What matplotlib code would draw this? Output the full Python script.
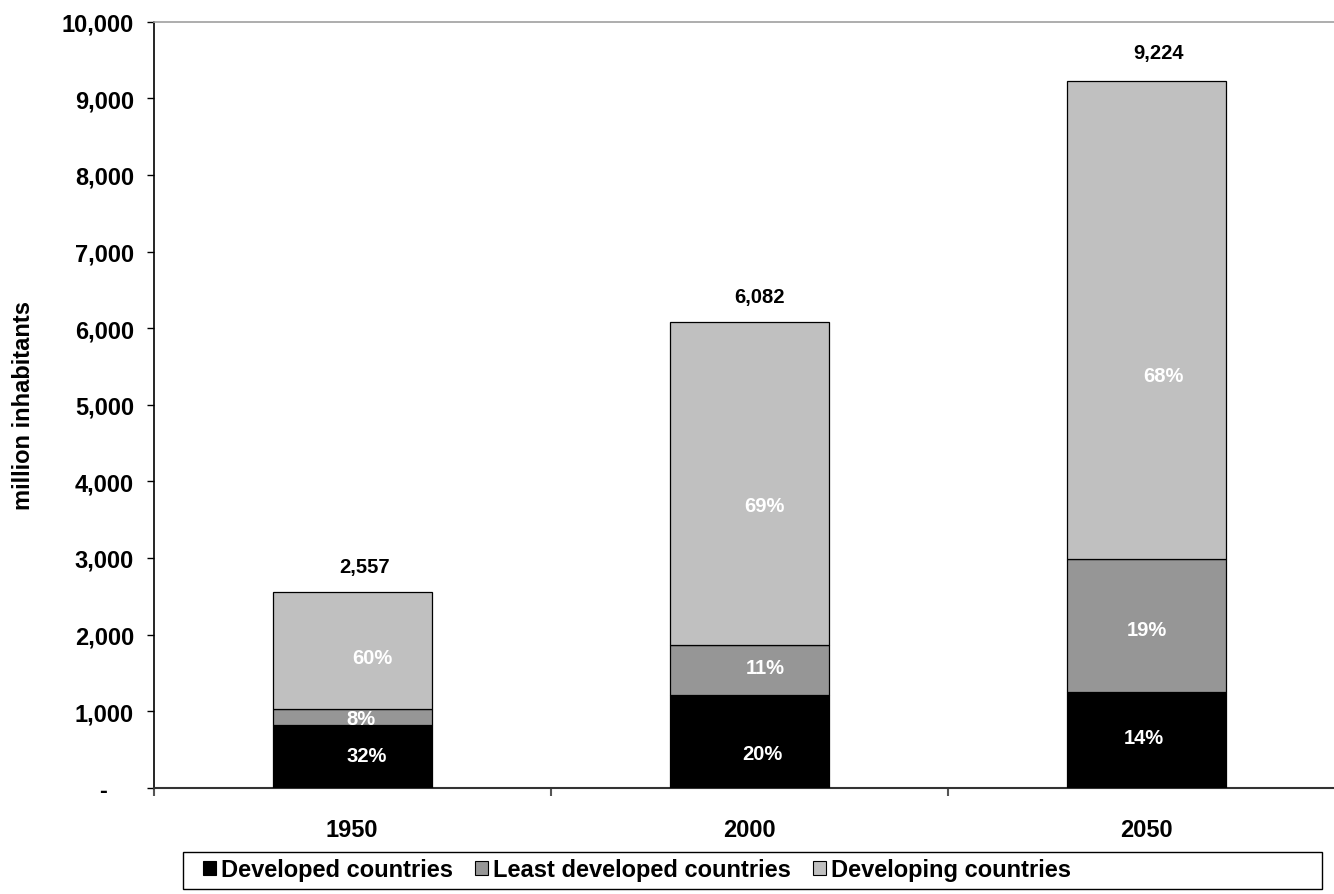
import matplotlib
matplotlib.use("Agg")
import matplotlib.pyplot as plt
from matplotlib.patches import Patch, Rectangle
from matplotlib.ticker import FuncFormatter, FixedLocator

plt.rcParams['font.family'] = ['Liberation Sans', 'DejaVu Sans']
plt.rcParams['font.weight'] = 'bold'

# Population by group, million inhabitants
years = ['1950', '2000', '2050']
developed = [821, 1210, 1252]
least_developed = [201, 650, 1730]
developing = [1535, 4222, 6242]
totals = [2557, 6082, 9224]
series_names = ['Developed countries', 'Least developed countries', 'Developing countries']
colors = ['#000000', '#969696', '#c0c0c0']

# Share label anchors (y in data units) and horizontal nudges (px)
pct_label_y = [[426, 909, 1704], [452, 1574, 3685], [660, 2068, 5377]]
pct_label_dx = [[15, 9, 20], [13, 16, 15], [-3, 0, 17]]
total_label_dy = [25, 25, 29]
total_label_dx = [12, 10, 12]

W, H = 1334, 895
fig = plt.figure(figsize=(W / 100, H / 100), dpi=100)
ax_left, ax_right, ax_bottom, ax_top = 153.5, 1345.0, 788.7, 22.7
ax = fig.add_axes([ax_left / W, 1 - ax_bottom / H,
                   (ax_right - ax_left) / W, (ax_bottom - ax_top) / H])

x = list(range(len(years)))
series = [developed, least_developed, developing]
bottoms = [0] * len(years)
for vals, col in zip(series, colors):
    ax.bar(x, vals, width=0.4, bottom=bottoms, color=col,
           edgecolor='black', linewidth=0.9, zorder=3)
    bottoms = [b + v for b, v in zip(bottoms, vals)]

# Share labels inside the stacks, totals above them
for i in range(len(years)):
    for j, vals in enumerate(series):
        share = round(100 * vals[i] / totals[i])
        ax.annotate(f'{share}%', xy=(x[i], pct_label_y[i][j]),
                    xytext=(pct_label_dx[i][j] * 0.72, 0), textcoords='offset points',
                    ha='center', va='center', color='white',
                    fontsize=14.5, fontweight='bold', zorder=5)
    ax.annotate(f'{totals[i]:,}', xy=(x[i], bottoms[i]),
                xytext=(total_label_dx[i] * 0.72, total_label_dy[i] * 0.72),
                textcoords='offset points', ha='center', va='center',
                color='black', fontsize=14.5, fontweight='bold')

ax.set_xlim(-0.5, 2.5)
ax.set_ylim(0, 10000)
ax.set_yticks(range(0, 10001, 1000))
ax.yaxis.set_major_formatter(FuncFormatter(lambda v, p: '-    ' if v == 0 else f'{int(v):,}'))
ax.tick_params(axis='y', direction='out', length=5, width=1, pad=9,
               labelsize=17, colors='black')

ax.set_xticks(x)
ax.set_xticklabels(years)
ax.xaxis.set_minor_locator(FixedLocator([-0.5, 0.5, 1.5, 2.5]))
ax.tick_params(axis='x', which='major', length=0, pad=22, labelsize=17)
ax.tick_params(axis='x', which='minor', length=6, width=1.5, color='#555555')
for lbl in ax.get_xticklabels() + ax.get_yticklabels():
    lbl.set_fontweight('bold')

ax.spines['left'].set_color('black')
ax.spines['left'].set_linewidth(1.2)
ax.spines['bottom'].set_color('#333333')
ax.spines['bottom'].set_linewidth(1.5)
ax.spines['top'].set_color('#a0a0a0')
ax.spines['top'].set_linewidth(1.2)
ax.spines['right'].set_visible(False)

fig.text(24 / W, 1 - 406 / H, 'million inhabitants', rotation=90,
         ha='center', va='center', fontsize=17, fontweight='bold')

# Legend entries, with a square frame drawn separately
handles = [Patch(facecolor=c, edgecolor='black', linewidth=0.8) for c in colors]
leg = fig.legend(handles, series_names, loc='center left', ncol=3,
                 bbox_to_anchor=(203 / W, 1 - 871 / H), frameon=False,
                 prop={'size': 17, 'weight': 'bold'}, borderpad=0, borderaxespad=0,
                 handlelength=0.55, handleheight=0.55, handletextpad=0.2,
                 columnspacing=0.95)
fig.add_artist(Rectangle((183 / W, 1 - 890 / H), (1322 - 183) / W, (890 - 853) / H,
                         transform=fig.transFigure, fill=False,
                         edgecolor='black', linewidth=1.0))

fig.savefig('out.png', dpi=100)
